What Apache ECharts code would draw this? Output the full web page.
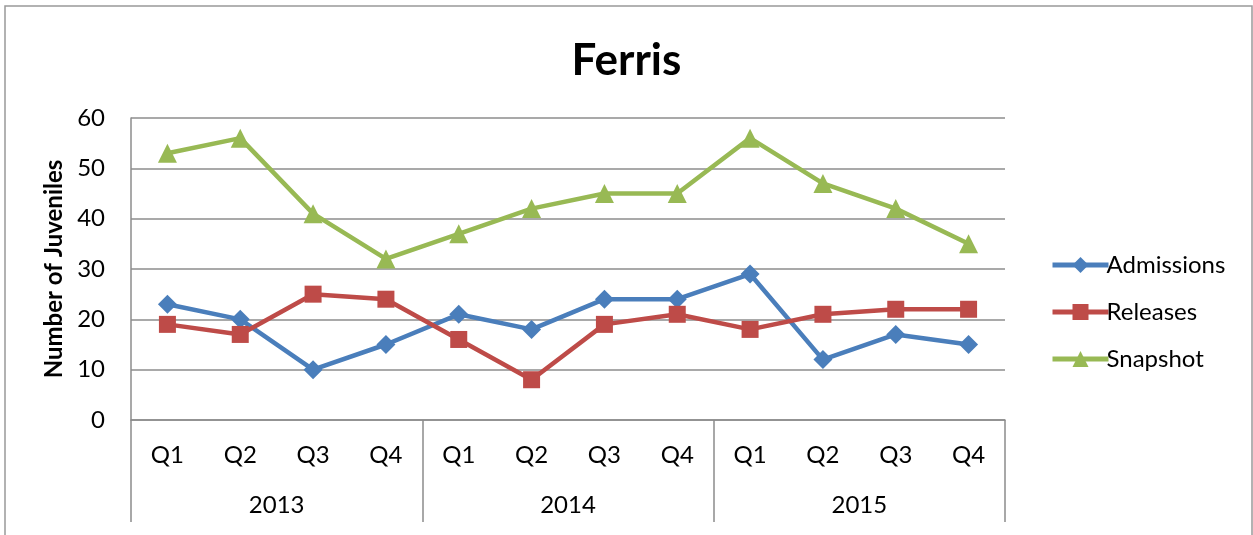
<!DOCTYPE html>
<html>
<head>
<meta charset="utf-8">
<script src="https://cdn.jsdelivr.net/npm/echarts@6/dist/echarts.min.js"></script>
<style>
  html, body { margin: 0; padding: 0; background: #fff; }
  #chart { width: 1253px; height: 535px; }
</style>
</head>
<body>
<div id="chart"></div>
<script>
// data
var quarters = ['Q1', 'Q2', 'Q3', 'Q4', 'Q1', 'Q2', 'Q3', 'Q4', 'Q1', 'Q2', 'Q3', 'Q4'];
var years = ['2013', '2014', '2015'];
var admissions = [23, 20, 10, 15, 21, 18, 24, 24, 29, 12, 17, 15];
var releases = [19, 17, 25, 24, 16, 8, 19, 21, 18, 21, 22, 22];
var snapshot = [53, 56, 41, 32, 37, 42, 45, 45, 56, 47, 42, 35];

var font = 'Lato, "Open Sans", sans-serif';
var gray = '#8c8c8c';

var chart = echarts.init(document.getElementById('chart'));

chart.setOption({
    animation: false,
    textStyle: { fontFamily: font, color: '#000' },
    title: {
        text: 'Ferris',
        left: 'center',
        top: 34,
        textStyle: { fontFamily: font, fontSize: 44, fontWeight: 'bold', color: '#000' }
    },
    graphic: [{
        type: 'rect',
        shape: { x: 5, y: 6, width: 1247, height: 540 },
        style: { fill: 'none', stroke: '#999', lineWidth: 1.5 },
        silent: true
    }],
    grid: { left: 131, right: 248, top: 118, bottom: 115 },
    legend: {
        orient: 'vertical',
        left: 1045,
        top: 248,
        itemWidth: 56,
        itemHeight: 20,
        itemGap: 23,
        lineStyle: { width: 5 },
        textStyle: { fontFamily: font, fontSize: 24, color: '#000', padding: [0, 0, 0, -7] },
        data: ['Admissions', 'Releases', 'Snapshot']
    },
    xAxis: [{
        type: 'category',
        data: quarters,
        position: 'bottom',
        axisLine: { show: true, lineStyle: { color: gray, width: 1.5 } },
        axisTick: { show: false },
        axisLabel: { margin: 23, fontSize: 24, color: '#000', fontFamily: font }
    }, {
        type: 'category',
        data: years,
        position: 'bottom',
        axisLine: { show: false },
        axisTick: { show: true, length: 102, lineStyle: { color: gray, width: 1.5 } },
        axisLabel: { margin: 73, fontSize: 24, color: '#000', fontFamily: font }
    }],
    yAxis: {
        type: 'value',
        min: 0,
        max: 60,
        interval: 10,
        name: 'Number of Juveniles',
        nameLocation: 'middle',
        nameGap: 62,
        nameTextStyle: { fontFamily: font, fontSize: 24, fontWeight: 'bold', color: '#000' },
        axisLine: { show: true, lineStyle: { color: gray, width: 1.5 } },
        axisTick: { show: false },
        axisLabel: { margin: 26, fontSize: 24, color: '#000', fontFamily: font },
        splitLine: { lineStyle: { color: gray, width: 1.5 } }
    },
    series: [{
        name: 'Admissions',
        type: 'line',
        data: admissions,
        symbol: 'diamond',
        symbolSize: 19,
        lineStyle: { color: '#4a7ebb', width: 4.5 },
        itemStyle: { color: '#4a7ebb' }
    }, {
        name: 'Releases',
        type: 'line',
        data: releases,
        symbol: 'rect',
        symbolSize: 17,
        lineStyle: { color: '#be4b48', width: 4.5 },
        itemStyle: { color: '#be4b48' }
    }, {
        name: 'Snapshot',
        type: 'line',
        data: snapshot,
        symbol: 'triangle',
        symbolSize: 19,
        lineStyle: { color: '#98b954', width: 4.5 },
        itemStyle: { color: '#98b954' }
    }]
});
</script>
</body>
</html>
